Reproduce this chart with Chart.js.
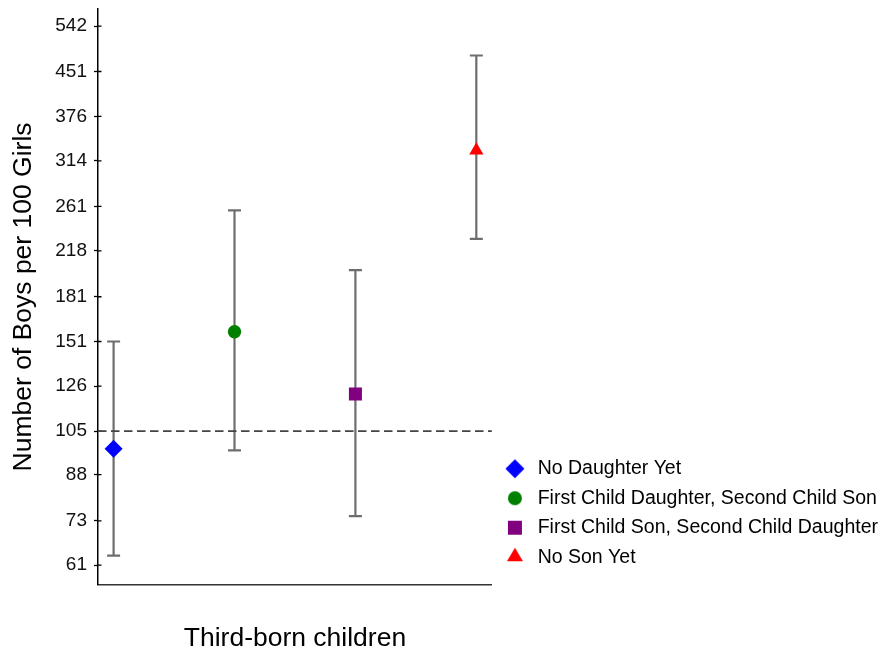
<!DOCTYPE html>
<html>
<head>
<meta charset="utf-8">
<script src="https://cdn.jsdelivr.net/npm/chart.js@4"></script>
<style>
  body { margin: 0; background: #fff; }
  #wrap { width: 884px; height: 653px; }
</style>
</head>
<body>
<div id="wrap"><canvas id="sexRatioChart" width="884" height="653"></canvas></div>
<script>
// Sex ratio of third-born children by sex of the first two children
const groups = ['No Daughter Yet', 'First Child Daughter, Second Child Son', 'First Child Son, Second Child Daughter', 'No Son Yet'];
const positions = [1, 2, 3, 4];
const ratios = [97.8, 157.1, 122.1, 327.5];
const lowerCI = [63.4, 97.1, 74.4, 228.8];
const upperCI = [151.0, 256.9, 201.6, 481.2];
const naturalRatio = 105;
const yTickLabels = [61, 73, 88, 105, 126, 151, 181, 218, 261, 314, 376, 451, 542];

const colors = ['#0000ff', '#008000', '#800080', '#ff0000'];
const shapes = ['rectRot', 'circle', 'rect', 'triangle'];
const radii = [9, 6.7, 9.2, 8.2];

const xMin = 0.871, xMax = 4.129;
const fontFamily = "'Liberation Sans', Arial, sans-serif";

function makeIcon(shape, color) {
    // small canvas used as legend marker
    const c = document.createElement('canvas');
    c.width = 22;
    c.height = 22;
    const g = c.getContext('2d');
    const m = 11;
    g.fillStyle = color;
    g.beginPath();
    if (shape === 'rectRot') {
        g.moveTo(m - 9.5, m); g.lineTo(m, m - 9.5); g.lineTo(m + 9.5, m); g.lineTo(m, m + 9.5);
    } else if (shape === 'circle') {
        g.arc(m, m, 7, 0, Math.PI * 2);
    } else if (shape === 'rect') {
        g.rect(m - 7, m - 7, 14, 14);
    } else {
        g.moveTo(m, m - 9.5); g.lineTo(m + 8, m + 4); g.lineTo(m - 8, m + 4);
    }
    g.closePath();
    g.fill();
    return c;
}
const legendIcons = shapes.map((s, i) => makeIcon(s, colors[i]));

const errorBars = {
    id: 'errorBars',
    afterLayout(chart) {
        // push the legend block up a little so it sits above the axis line
        chart.legend.top -= 7.7;
        chart.legend.bottom -= 7.7;
    },
    beforeDatasetsDraw(chart) {
        const { ctx, scales: { x, y } } = chart;
        ctx.save();
        ctx.strokeStyle = '#6e6e6e';
        ctx.lineWidth = 2.2;
        positions.forEach((p, i) => {
            const px = x.getPixelForValue(p);
            const top = y.getPixelForValue(upperCI[i]);
            const bot = y.getPixelForValue(lowerCI[i]);
            ctx.beginPath();
            ctx.moveTo(px, top); ctx.lineTo(px, bot);
            ctx.moveTo(px - 6.5, top); ctx.lineTo(px + 6.5, top);
            ctx.moveTo(px - 6.5, bot); ctx.lineTo(px + 6.5, bot);
            ctx.stroke();
        });
        // inner half of the y tick marks
        ctx.strokeStyle = '#000';
        ctx.lineWidth = 1.3;
        ctx.beginPath();
        y.ticks.forEach(t => {
            const py = y.getPixelForValue(t.value);
            ctx.moveTo(chart.chartArea.left, py);
            ctx.lineTo(chart.chartArea.left + 3.5, py);
        });
        ctx.stroke();
        ctx.restore();
    }
};

const datasets = groups.map((g, i) => ({
    label: g,
    data: [{ x: positions[i], y: ratios[i] }],
    pointStyle: shapes[i],
    pointRadius: radii[i],
    pointHoverRadius: radii[i],
    backgroundColor: colors[i],
    borderColor: colors[i],
    borderWidth: 0
}));

datasets.push({
    label: 'natural',
    data: [{ x: xMin, y: naturalRatio }, { x: xMax, y: naturalRatio }],
    showLine: true,
    pointRadius: 0,
    borderColor: '#444444',
    borderWidth: 1.8,
    borderDash: [8.5, 4.5]
});

const ctx = document.getElementById('sexRatioChart').getContext('2d');
const sexRatioChart = new Chart(ctx, {
    type: 'scatter',
    data: { datasets: datasets },
    plugins: [errorBars],
    options: {
        responsive: false,
        animation: false,
        layout: { padding: { top: 7.5, left: 0, right: -4, bottom: 0 } },
        plugins: {
            tooltip: { enabled: false },
            legend: {
                position: 'right',
                align: 'end',
                fullSize: false,
                maxWidth: 420,
                labels: {
                    usePointStyle: true,
                    pointStyleWidth: 26,
                    padding: 10,
                    color: '#000',
                    font: { family: fontFamily, size: 19.5 },
                    generateLabels: () => groups.map((g, i) => ({
                        text: g,
                        pointStyle: legendIcons[i],
                        fillStyle: colors[i],
                        strokeStyle: colors[i],
                        lineWidth: 0,
                        hidden: false,
                        datasetIndex: i,
                        fontColor: '#000'
                    }))
                }
            }
        },
        scales: {
            x: {
                type: 'linear',
                min: xMin,
                max: xMax,
                bounds: 'data',
                ticks: { display: false },
                grid: { display: false, drawTicks: false },
                border: { display: true, color: '#333', width: 1.6 },
                title: {
                    display: true,
                    text: 'Third-born children',
                    color: '#000',
                    font: { family: fontFamily, size: 26.5 },
                    padding: { top: 38.5, bottom: -2 }
                }
            },
            y: {
                type: 'logarithmic',
                min: 56.35,
                max: 580.5,
                bounds: 'data',
                afterBuildTicks: scale => {
                    scale.ticks = yTickLabels.map(v => ({ value: v }));
                },
                ticks: {
                    color: '#111',
                    padding: 7,
                    font: { family: fontFamily, size: 19, lineHeight: 0.01 },
                    callback: v => String(v)
                },
                grid: {
                    display: true,
                    drawOnChartArea: false,
                    drawTicks: true,
                    tickLength: 4,
                    tickColor: '#000',
                    tickWidth: 1.3
                },
                border: { display: true, color: '#000', width: 1.5 },
                title: {
                    display: true,
                    text: 'Number of Boys per 100 Girls',
                    color: '#000',
                    font: { family: fontFamily, size: 26.5 },
                    padding: { top: 8, bottom: 8.5 }
                }
            }
        }
    }
});
</script>
</body>
</html>
